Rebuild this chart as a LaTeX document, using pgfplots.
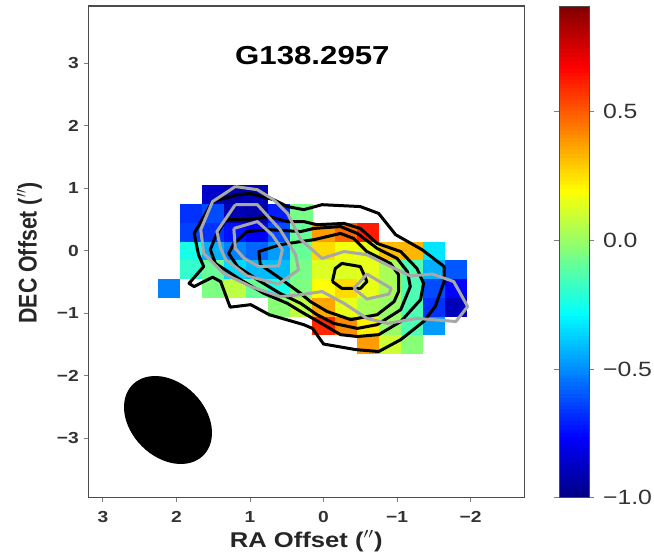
\documentclass[border=0pt]{standalone}
\usepackage{fontspec}
\setmainfont{Liberation Sans}
\usepackage{pgfplots}
\usepackage{pgfplotstable}
\pgfplotsset{compat=1.18}
\pgfdeclareplotmark{cell}{\pgfpathrectangle{\pgfpoint{-8.3pt}{-7.05pt}}{\pgfpoint{16.6pt}{14.1pt}}\pgfusepathqfill}
\definecolor{spine}{gray}{0.3}
\definecolor{tk}{gray}{0.5}
\definecolor{gcont}{gray}{0.66}
\newcommand{\sx}[1]{\scalebox{1.2}[1]{#1}}
\pgfplotstableread{
x y v
1.5 0.9 -0.86
1.2 0.9 -0.92
0.9 0.9 -0.90
1.8 0.6 -0.67
1.5 0.6 -0.62
1.2 0.6 -0.90
0.9 0.6 -0.92
0.6 0.6 -0.71
0.3 0.6 -0.06
1.8 0.3 -0.64
1.5 0.3 -0.67
1.2 0.3 -0.73
0.9 0.3 -0.77
0.6 0.3 -0.62
0.3 0.3 -0.09
0 0.3 0.38
-0.3 0.3 0.48
-0.6 0.3 0.62
1.8 0 -0.24
1.5 0 -0.43
1.2 0 -0.52
0.9 0 -0.57
0.6 0 -0.47
0.3 0 -0.09
0 0 0.26
-0.3 0 0.17
-0.6 0 0.15
-0.9 0 0.32
-1.2 0 0.33
-1.5 0 -0.33
1.8 -0.3 -0.19
1.5 -0.3 -0.09
1.2 -0.3 -0.35
0.9 -0.3 -0.41
0.6 -0.3 -0.41
0.3 -0.3 -0.06
0 -0.3 0.13
-0.3 -0.3 0.13
-0.6 -0.3 0.15
-0.9 -0.3 0.03
-1.2 -0.3 -0.14
-1.5 -0.3 -0.43
-1.8 -0.3 -0.60
2.1 -0.6 -0.52
1.5 -0.6 -0.05
1.2 -0.6 0.07
0.9 -0.6 -0.09
0.6 -0.6 -0.24
0.3 -0.6 -0.05
0 -0.6 0.19
-0.3 -0.6 0.26
-0.6 -0.6 0.15
-0.9 -0.6 0.03
-1.2 -0.6 -0.14
-1.5 -0.6 -0.62
-1.8 -0.6 -0.76
0.6 -0.9 -0.03
0.3 -0.9 0.07
0 -0.9 0.36
-0.3 -0.9 0.15
-0.6 -0.9 0.03
-0.9 -0.9 0
-1.2 -0.9 -0.14
-1.5 -0.9 -0.67
-1.8 -0.9 -0.89
0 -1.2 0.60
-0.3 -1.2 0.41
-0.6 -1.2 0.22
-0.9 -1.2 0
-1.2 -1.2 -0.14
-1.5 -1.2 -0.47
-0.6 -1.5 0.38
-0.9 -1.5 0.10
-1.2 -1.5 -0.03
}\cells
\begin{document}
\begin{tikzpicture}[x=1pt,y=1pt]
\useasboundingbox (0,0) rectangle (490.5,415.5);
\begin{axis}[
  at={(66.2pt,42.2pt)}, anchor=south west,
  scale only axis, width=327pt, height=368.8pt,
  x dir=reverse,
  xmin=-2.73, xmax=3.2, ymin=-3.95, ymax=3.92,
  axis line style={spine, line width=0.9pt},
  tick style={tk, line width=0.7pt},
  tick align=outside, xtick pos=bottom, ytick pos=left,
  major tick length=3.5pt,
  xtick={3,2,1,0,-1,-2},
  xticklabels={\sx{\bfseries 3},\sx{\bfseries 2},\sx{\bfseries 1},\sx{\bfseries 0},\sx{\bfseries −1},\sx{\bfseries −2}},
  ytick={3,2,1,0,-1,-2,-3},
  yticklabels={\sx{\bfseries 3},\sx{\bfseries 2},\sx{\bfseries 1},\sx{\bfseries 0},\sx{\bfseries −1},\sx{\bfseries −2},\sx{\bfseries −3}},
  tick label style={font=\fontsize{12}{14}\selectfont, text=black!80},
  xticklabel style={yshift=-3.5pt},
  xlabel={\sx{\bfseries RA Offset ($^{\prime\prime}$)}},
  ylabel={\scalebox{1}[1.2]{\bfseries DEC Offset ($^{\prime\prime}$)}},
  xlabel style={font=\fontsize{16}{18}\selectfont, text=black!85, at={(axis description cs:0.5,-0.088)}, anchor=center},
  ylabel style={font=\fontsize{16}{18}\selectfont, text=black!85, at={(axis description cs:-0.135,0.498)}, anchor=center},
  colormap/jet,
  point meta min=-1, point meta max=0.91,
  colorbar sampled,
  colorbar style={
    samples=128,
    at={(1.0796,1)}, anchor=north west,
    scale only axis, width=22.5pt, height=368.8pt,
    ytick={-1,-0.5,0,0.5},
    yticklabels={\sx{−1.0},\sx{−0.5},\sx{0.0},\sx{0.5}},
    yticklabel pos=right,
    tick align=outside,
    major tick length=3.5pt,
    axis line style={spine, line width=0.7pt},
    tick style={tk, line width=0.7pt},
    yticklabel style={font=\fontsize{15.5}{18}\selectfont, text=black!80, xshift=3.5pt},
  },
]
\addplot[scatter, only marks, mark=cell, point meta=explicit,
  scatter/use mapped color={draw=none, fill=mapped color}]
  table[x=x, y=y, meta=v] {\cells};
\end{axis}
\begin{axis}[
  at={(66.2pt,42.2pt)}, anchor=south west,
  scale only axis, width=327pt, height=368.8pt,
  x dir=reverse, hide axis,
  xmin=-2.73, xmax=3.2, ymin=-3.95, ymax=3.92,
]
% black contours
\addplot[black, line width=2.25pt, line join=round, mark=none] coordinates {
(1.51,0.79)(1.17,0.90)(0.99,0.92)(0.68,0.82)(0.49,0.71)(0.27,0.66)(0.02,0.74)(-0.50,0.71)(-0.75,0.60)(-0.98,0.26)(-1.34,0.02)(-1.64,-0.25)(-1.64,-0.49)(-1.52,-0.89)(-1.36,-1.13)(-1.05,-1.42)(-0.75,-1.61)(-0.44,-1.58)(0,-1.49)(0.15,-1.24)(0.27,-1.18)(0.74,-1.02)(0.99,-0.86)(1.27,-0.90)(1.40,-0.49)(1.51,-0.42)(1.76,-0.57)(1.83,-0.52)(1.63,-0.25)(1.70,-0.06)(1.76,0.28)(1.51,0.79)};
\addplot[black, line width=2.25pt, line join=round, mark=none] coordinates {
(0.09,0.42)(-0.28,0.44)(-0.50,0.36)(-0.73,0.12)(-1.05,-0.01)(-1.27,-0.28)(-1.36,-0.52)(-1.32,-0.78)(-1.05,-1.13)(-0.75,-1.34)(-0.46,-1.37)(-0.23,-1.34)(0,-1.18)(0.31,-0.97)(0.49,-0.84)(0.81,-0.68)(1.13,-0.46)(1.47,-0.20)(1.54,0.02)(1.47,0.23)(1.33,0.50)(1.04,0.50)(0.74,0.55)(0.49,0.47)(0.27,0.47)(0.09,0.42)};
\addplot[black, line width=2.25pt, line join=round, mark=none] coordinates {
(0.13,0.36)(-0.23,0.39)(-0.46,0.28)(-0.73,0.04)(-1.00,-0.12)(-1.14,-0.33)(-1.18,-0.57)(-1.05,-0.94)(-0.73,-1.18)(-0.46,-1.24)(-0.14,-1.16)(0.09,-1.02)(0.31,-0.84)(0.59,-0.68)(0.90,-0.46)(1.17,-0.25)(1.29,-0.04)(1.22,0.12)(1.04,0.31)(0.74,0.34)(0.31,0.31)(0.13,0.36)};
\addplot[black, line width=2.25pt, line join=round, mark=none] coordinates {
(0.13,0.18)(-0.23,0.28)(-0.41,0.20)(-0.59,-0.01)(-0.91,-0.20)(-1.02,-0.38)(-1.02,-0.65)(-0.96,-0.81)(-0.73,-1.02)(-0.37,-1.10)(-0.05,-0.97)(0.18,-0.81)(0.31,-0.68)(0.59,-0.44)(0.86,-0.22)(0.88,-0.01)(0.59,0.10)(0.31,0.15)(0.13,0.18)};
\addplot[black, line width=2.25pt, line join=round, mark=none] coordinates {
(-0.12,-0.49)(-0.16,-0.28)(-0.25,-0.20)(-0.50,-0.25)(-0.55,-0.38)(-0.59,-0.49)(-0.50,-0.60)(-0.25,-0.60)(-0.12,-0.49)};
% grey contours
\addplot[gcont, line width=2.25pt, line join=round, mark=none] coordinates {
(1.20,1.03)(0.90,0.98)(0.68,0.82)(0.49,0.60)(0.31,0.18)(0.02,-0.12)(-0.28,-0.01)(-0.59,-0.06)(-0.91,-0.25)(-1.18,-0.40)(-1.48,-0.37)(-1.77,-0.49)(-1.96,-0.89)(-1.80,-1.13)(-1.27,-1.08)(-0.87,-1.16)(-0.59,-1.08)(-0.28,-0.84)(0.02,-0.65)(0.31,-0.70)(0.59,-0.73)(0.99,-0.57)(1.36,-0.36)(1.63,-0.04)(1.67,0.34)(1.51,0.79)(1.20,1.03)};
\addplot[gcont, line width=2.25pt, line join=round, mark=none] coordinates {
(1.20,0.74)(0.90,0.74)(0.59,0.34)(0.38,-0.06)(0.34,-0.30)(0.61,-0.53)(1.04,-0.40)(1.33,-0.14)(1.40,0.04)(1.45,0.31)(1.20,0.74)};
\addplot[gcont, line width=2.25pt, line join=round, mark=none] coordinates {
(1.22,0.36)(0.90,0.47)(0.70,0.26)(0.56,0.02)(0.61,-0.24)(0.88,-0.25)(1.08,-0.12)(1.20,0.04)(1.22,0.36)};
\addplot[gcont, line width=2.25pt, line join=round, mark=none] coordinates {
(-0.41,-0.60)(-0.59,-0.37)(-0.92,-0.60)(-0.89,-0.69)(-0.59,-0.77)(-0.41,-0.60)};
\node[font=\fontsize{19.5}{22}\selectfont\bfseries, text=black] at (rel axis cs:0.514,0.90) {\sx{G138.2957}};
\end{axis}
\fill[black, shift={(126,100.5)}, rotate=-45] (0,0) ellipse (37.5 and 27.75);
\end{tikzpicture}
\end{document}
